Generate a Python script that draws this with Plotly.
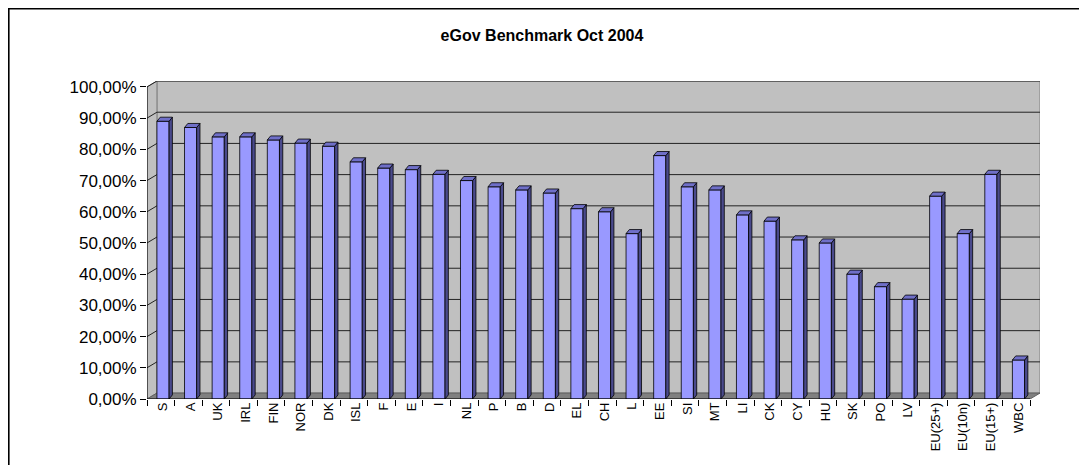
import plotly.graph_objects as go

categories = ["S", "A", "UK", "IRL", "FIN", "NOR", "DK", "ISL", "F", "E", "I", "NL", "P", "B", "D",
              "EL", "CH", "L", "EE", "SI", "MT", "LI", "CK", "CY", "HU", "SK", "PO", "LV",
              "EU(25+)", "EU(10n)", "EU(15+)", "WBC"]
values = [89, 87, 84, 84, 83, 82, 81, 76, 74, 73.5, 72, 70, 68, 67, 66,
          61, 60, 53, 78, 68, 67, 59, 57, 51, 50, 40, 36, 32,
          65, 53, 72, 12.5]
y_ticks = [0, 10, 20, 30, 40, 50, 60, 70, 80, 90, 100]
y_ticktext = [("%.2f%%" % v).replace(".", ",") for v in y_ticks]
title_text = "eGov Benchmark Oct 2004"

# page has an 8px body margin; figure sized to fill the rest of the window
W, H = 1079, 457
ML, MR, MT, MB = 139, 47, 73, 66
n = len(categories)
L = -0.58            # front-left floor edge
R = L + n            # front-right floor edge
DXW, DYW = 0.36, 1.9  # wall depth
BW = 0.44            # bar width
DXB, DYB = 0.12, 1.3  # bar depth
YTOP = 100 + DYW

xs = list(range(n))

fig = go.Figure()

shapes = []
shapes.append(dict(type="rect", xref="x", yref="y", x0=L + DXW, x1=R + DXW, y0=DYW, y1=YTOP,
                   fillcolor="#C0C0C0", line=dict(color="#808080", width=1), layer="below"))
shapes.append(dict(type="path", xref="x", yref="y",
                   path=f"M{L},0 L{L+DXW},{DYW} L{L+DXW},{YTOP} L{L},100 Z",
                   fillcolor="#C0C0C0", line=dict(color="#808080", width=1), layer="below"))
shapes.append(dict(type="path", xref="x", yref="y",
                   path=f"M{L},0 L{L+DXW},{DYW} L{R+DXW},{DYW} L{R},0 Z",
                   fillcolor="#808080", line=dict(color="#606060", width=1), layer="below"))
for v in y_ticks[1:]:
    shapes.append(dict(type="line", xref="x", yref="y", x0=L + DXW, x1=R + DXW, y0=v + DYW, y1=v + DYW,
                       line=dict(color="#222222", width=1), layer="below"))
    shapes.append(dict(type="line", xref="x", yref="y", x0=L, x1=L + DXW, y0=v, y1=v + DYW,
                       line=dict(color="#222222", width=1), layer="below"))
shapes.append(dict(type="line", xref="x", yref="y", x0=L, x1=R, y0=0, y1=0,
                   line=dict(color="#000000", width=1)))
shapes.append(dict(type="line", xref="x", yref="y", x0=L, x1=L, y0=0, y1=100,
                   line=dict(color="#000000", width=1)))
pw = W - ML - MR
ph = H - MT - MB
shapes.append(dict(type="rect", xref="paper", yref="paper",
                   x0=(0.8 - ML) / pw, x1=(W + 20 - ML) / pw,
                   y0=(H - MB - (H + 20)) / ph, y1=(H - MB - 0.8) / ph,
                   line=dict(color="#000000", width=1.6), fillcolor="rgba(0,0,0,0)", layer="below"))

fig.add_trace(go.Bar(x=xs, y=values, width=BW, marker=dict(color="#9999FF", line=dict(color="#000000", width=0.8)),
                     hoverinfo="skip", showlegend=False))

side_x, side_y, top_x, top_y = [], [], [], []
for i, v in zip(xs, values):
    xr = i + BW / 2
    xl = i - BW / 2
    side_x += [xr, xr + DXB, xr + DXB, xr, xr, None]
    side_y += [0, DYB, v + DYB, v, 0, None]
    top_x += [xl, xl + DXB, xr + DXB, xr, xl, None]
    top_y += [v, v + DYB, v + DYB, v, v, None]
fig.add_trace(go.Scatter(x=side_x, y=side_y, mode="lines", fill="toself", fillcolor="#4A4A8C",
                         line=dict(color="#000000", width=0.8), hoverinfo="skip", showlegend=False))
fig.add_trace(go.Scatter(x=top_x, y=top_y, mode="lines", fill="toself", fillcolor="#6F6FC8",
                         line=dict(color="#000000", width=0.8), hoverinfo="skip", showlegend=False))

fig.update_layout(
    width=W, height=H,
    margin=dict(l=ML, r=MR, t=MT, b=MB, autoexpand=False),
    paper_bgcolor="white", plot_bgcolor="white",
    shapes=shapes,
    title=dict(text="<b>" + title_text + "</b>", x=534 / W, xanchor="center", y=1 - 27 / H, yanchor="middle",
               font=dict(family="Liberation Sans, Arial", size=16, color="#000000")),
    xaxis=dict(range=[L, R + DXW], tickvals=xs, ticktext=categories, tickangle=-90,
               showgrid=False, zeroline=False, showline=False, ticks="",
               tickfont=dict(family="Liberation Sans, Arial", size=13, color="#000000"),
               minor=dict(tick0=L, dtick=1, ticks="outside", ticklen=6, tickcolor="#000000", showgrid=False),
               fixedrange=True),
    yaxis=dict(range=[0, YTOP], tickvals=y_ticks, ticktext=y_ticktext,
               showgrid=False, zeroline=False, showline=False,
               ticks="outside", ticklen=6, tickcolor="#000000",
               tickfont=dict(family="Liberation Sans, Arial", size=17, color="#000000"),
               fixedrange=True),
    bargap=0.5,
)

fig.write_html("out.html")
